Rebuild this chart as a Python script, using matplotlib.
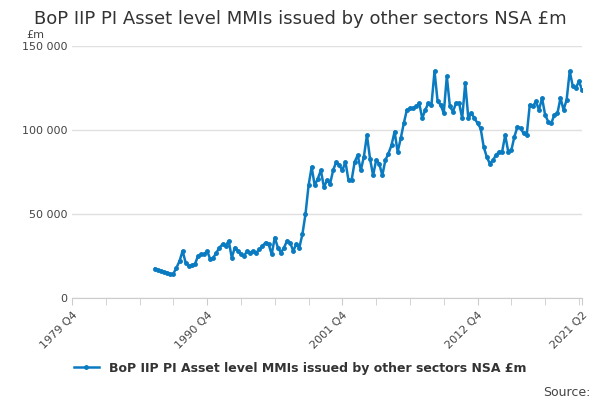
import matplotlib.pyplot as plt
from matplotlib.ticker import FuncFormatter

# quarterly values in £m thousands, ending 2021 Q2
values = [17.5, 16.5, 16, 15.5, 15, 14, 14.5, 18, 22,
          28, 21, 19, 19.5, 20, 25, 26, 26, 28, 23, 24, 27,
          30, 32, 31, 34, 24, 30, 28, 26, 25, 28, 27, 28,
          27, 29, 31, 33, 32, 26, 36, 30, 27, 30, 34, 33,
          28, 32, 30, 38, 50, 67, 78, 67, 71, 76, 66, 70,
          68, 76, 81, 79, 76, 81, 70, 70, 81, 85, 76, 84,
          97, 83, 73, 82, 80, 73, 82, 86, 91, 99, 87, 95,
          104, 112, 113, 113, 114, 116, 107, 112, 116, 115, 135, 117,
          115, 110, 132, 114, 111, 116, 116, 107, 128, 107, 110, 107,
          104, 101, 90, 84, 80, 82, 85, 87, 87, 97, 87, 88,
          96, 102, 101, 98, 97, 115, 114, 117, 112, 119, 109, 105,
          104, 109, 110, 119, 112, 118, 135, 126, 125, 129, 124]
values = [v * 1000 for v in values]
tick_labels = ["1979 Q4", "1990 Q4", "2001 Q4", "2012 Q4", "2021 Q2"]
tick_pos = [0, 44, 88, 132, 166]
last_q = 166
xs = list(range(last_q - len(values) + 1, last_q + 1))

blue = "#0a7bc1"
fig, ax = plt.subplots(figsize=(6, 4), dpi=100)
fig.subplots_adjust(left=0.12, right=0.97, top=0.885, bottom=0.255)
ax.plot(xs, values, color=blue, lw=1.8, marker="o", ms=2.5,
        label="BoP IIP PI Asset level MMIs issued by other sectors NSA £m")
ax.set_xlim(0, 166)
ax.set_ylim(0, 150000)
ax.set_yticks([0, 50000, 100000, 150000])
ax.yaxis.set_major_formatter(FuncFormatter(lambda v, p: f"{int(v):,}".replace(",", " ")))
ax.set_xticks(tick_pos)
ax.set_xticklabels(tick_labels, rotation=45, ha="right", rotation_mode="anchor")
ax.set_xticks(range(0, 167, 11), minor=True)
ax.grid(axis="y", color="#e0e0e0", lw=1)
ax.set_axisbelow(True)
for s in ["top", "right", "left"]:
    ax.spines[s].set_visible(False)
ax.spines["bottom"].set_color("#cccccc")
ax.tick_params(axis="y", length=0, labelsize=8, colors="#444444")
ax.tick_params(axis="x", which="both", length=5, color="#cccccc", labelsize=8, colors="#444444")
ax.text(-0.09, 1.03, "£m", transform=ax.transAxes, fontsize=8, color="#444444")
fig.suptitle("BoP IIP PI Asset level MMIs issued by other sectors NSA £m",
             fontsize=13, color="#333333", y=0.975)
fig.legend(loc="lower center", bbox_to_anchor=(0.5, 0.035), frameon=False,
           prop={"size": 9, "weight": "bold"}, labelcolor="#333333")
fig.text(0.985, 0.01, "Source:", ha="right", fontsize=9, color="#444444")
fig.savefig("out.png")
